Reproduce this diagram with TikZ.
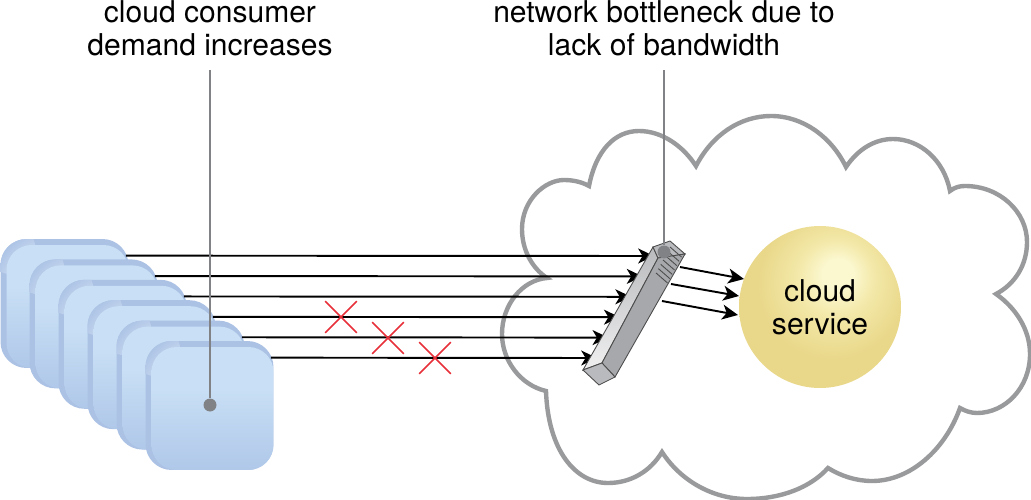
\documentclass[tikz,border=0pt]{standalone}
\usepackage{fontspec}
\setmainfont{TeX Gyre Heros}
\usetikzlibrary{shapes.misc}
\usetikzlibrary{arrows.meta}
\definecolor{cloudline}{HTML}{999A9C}
\definecolor{cardside}{HTML}{ABC2E5}
\definecolor{cardtop}{HTML}{C8DFF5}
\definecolor{cardbot}{HTML}{B0C8E9}
\definecolor{cardglow}{HTML}{EEF7FD}
\definecolor{ballbase}{HTML}{E9D88A}
\definecolor{ballmid}{HTML}{F3E8A8}
\definecolor{ballglow}{HTML}{FBF7CE}
\definecolor{ballspot}{HTML}{F2E599}
\definecolor{leadgray}{HTML}{808285}
\definecolor{xred}{HTML}{E8303A}
\definecolor{swfront}{HTML}{A7A8AB}
\definecolor{swtop}{HTML}{B9BABD}
\definecolor{swlight}{HTML}{F0F0F1}
\pgfdeclareradialshading{ballshade}{\pgfpoint{6bp}{11bp}}{color(0bp)=(ballglow); color(5bp)=(ballglow); color(12bp)=(ballmid); color(23bp)=(ballbase); color(60bp)=(ballbase)}
\pgfdeclareverticalshading{cardshade}{100bp}{color(0bp)=(cardbot); color(25bp)=(cardbot); color(58bp)=(cardtop); color(100bp)=(cardtop)}
\pgfdeclareradialshading{cornerglow}{\pgfpoint{0bp}{0bp}}{color(0bp)=(cardglow); color(7bp)=(cardglow); color(25bp)=(cardside); color(60bp)=(cardside)}
\tikzset{
  label/.style={align=center,inner sep=0pt,font=\fontsize{17.1}{18.8}\selectfont},
  cardback/.style={minimum width=2.56cm,minimum height=2.58cm,inner sep=0pt,rounded corners=0.52cm,fill=cardside,
    path picture={\shade[shading=cornerglow] ([xshift=0.2cm,yshift=-0.2cm]path picture bounding box.north west) circle (0.5cm);}},
  cardface/.style={minimum width=2.44cm,minimum height=2.46cm,inner sep=0pt,rounded corners=0.5cm,shading=cardshade},
  flow/.style={-{Stealth[length=9pt,width=8.5pt,inset=2.5pt]},line width=1.1pt},
  leader/.style={draw=leadgray,line width=1.1pt},
  dot/.style={circle,fill=leadgray,inner sep=0pt,minimum size=0.26cm},
  nogo/.style={draw=xred,cross out,line width=0.9pt,inner sep=0pt,minimum size=0.6cm},
  swedge/.style={draw=black!70,line width=0.5pt}
}
\begin{document}
\begin{tikzpicture}[x=0.02cm,y=-0.02cm]
\useasboundingbox (0,0) rectangle (1031,500);
\draw[draw=cloudline,line width=2.5pt,fill=white,line join=miter] (589,186)
  .. controls (596,150) and (615,131) .. (639,131) .. controls (662,131) and (683,146) .. (696,166)
  .. controls (712,135) and (740,116) .. (771,116) .. controls (804,116) and (832,138) .. (846,167)
  .. controls (858,149) and (875,139) .. (893,139) .. controls (920,139) and (944,160) .. (950,191)
  .. controls (955,187) and (960,186) .. (965,186) .. controls (1000,186) and (1027,212) .. (1027,242)
  .. controls (1027,265) and (1015,284) .. (996,294)
  .. controls (1016,308) and (1030,330) .. (1030,354) .. controls (1030,388) and (1005,413) .. (977,413)
  .. controls (971,413) and (965,411) .. (960,408)
  .. controls (945,450) and (910,481) .. (872,481) .. controls (856,481) and (841,476) .. (828,468)
  .. controls (810,488) and (780,499) .. (747,499) .. controls (712,499) and (680,480) .. (662,452)
  .. controls (650,472) and (630,483) .. (608,483) .. controls (575,483) and (548,450) .. (546,391)
  .. controls (520,385) and (502,360) .. (502,334) .. controls (502,305) and (522,280) .. (547,278)
  .. controls (532,268) and (522,250) .. (522,229) .. controls (522,200) and (545,180) .. (564,180)
  .. controls (573,180) and (582,182) .. (589,186) -- cycle;
\node[circle,minimum size=3.24cm,inner sep=0pt,shading=ballshade,align=center,font=\fontsize{17.1}{18.8}\selectfont,
  path picture={\shade[inner color=ballspot,outer color=ballbase] (778,352) circle (0.8cm);}] (service) at (820,307) {cloud\\service};
\foreach \i in {0,...,5}{
  \node[cardback] (back\i) at ({64.5+29*\i},{303.5+20.4*\i}) {};
  \node[cardface] (card\i) at ({67.5+29*\i},{306.5+20.4*\i}) {};
  \coordinate (in\i) at ({654-11.4*\i},{256+20.4*\i});
  \draw[flow] ([xshift=-0.06cm,yshift=-0.22cm]card\i.north east) -- (in\i);
}
\path[swedge,top color=swtop,middle color=swtop!75!swlight,bottom color=swlight] (653,247) -- (658,258) -- (602,363) -- (583,370) -- cycle;
\path[swedge,fill=swtop] (653,247) -- (670,241) -- (685,254) -- (658,258) -- cycle;
\path[swedge,fill=swfront] (658,258) -- (685,254) -- (615,377) -- (602,363) -- cycle;
\path[swedge,fill=swtop] (602,363) -- (615,377) -- (599,385) -- (583,370) -- cycle;
\foreach \i in {0,...,6}
  \draw[black!70,line width=0.5pt] ({670-2.33*\i},{247+4.33*\i}) -- ++(11.5,10);
\coordinate (out1) at (680,267);
\coordinate (out2) at (671,284);
\coordinate (out3) at (662,301);
\coordinate (tip1) at (744,279);
\coordinate (tip2) at (739,296);
\coordinate (tip3) at (738,315);
\foreach \i in {1,2,3}
  \draw[flow] (out\i) -- (tip\i);
\node[nogo] (x1) at (341,317) {};
\node[nogo] (x2) at (388,338) {};
\node[nogo] (x3) at (435,358) {};
\node[label] (demand) at (210,28) {cloud consumer\\demand increases};
\node[label] (bottleneck) at (664,28) {network bottleneck due to\\lack of bandwidth};
\node[dot] (dotcard) at (210,405) {};
\node[dot] (dotsw) at (664,252) {};
\coordinate (leadcard) at (210,70);
\coordinate (leadsw) at (664,70);
\draw[leader] (leadcard) -- (dotcard);
\draw[leader] (leadsw) -- (dotsw);
\end{tikzpicture}
\end{document}
